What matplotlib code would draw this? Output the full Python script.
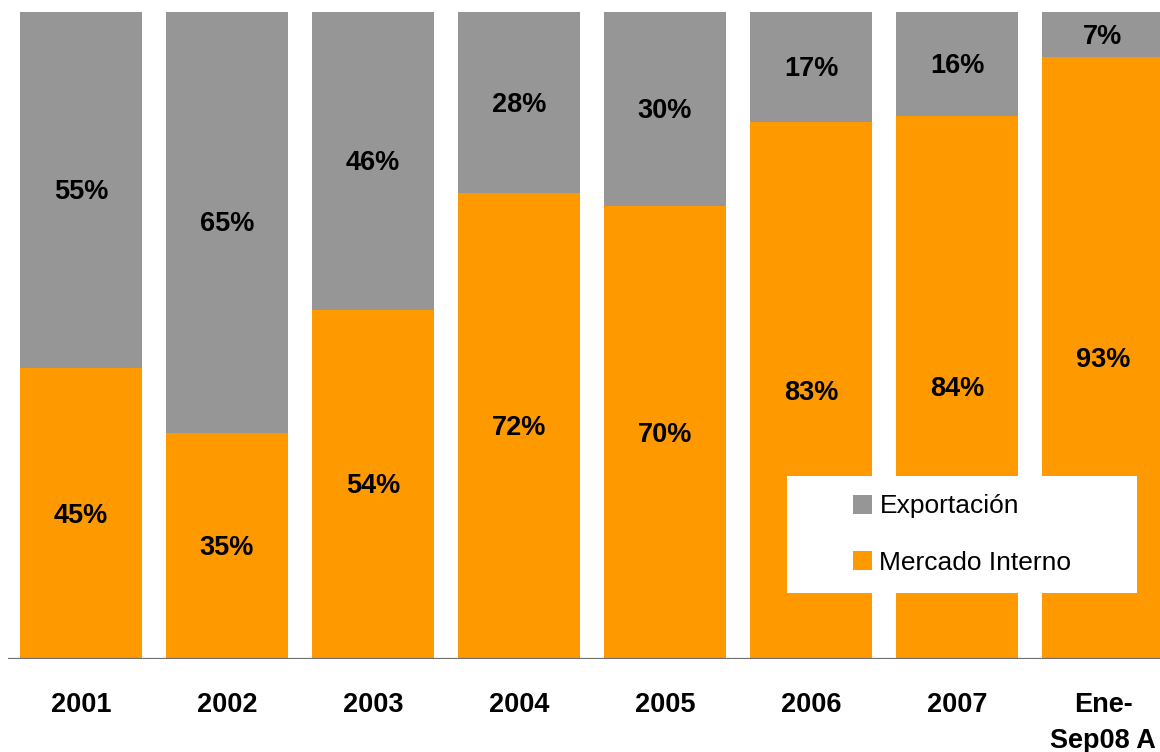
import matplotlib
matplotlib.use("Agg")
import matplotlib.pyplot as plt
from matplotlib.patches import Rectangle, Patch

categories = ["2001", "2002", "2003", "2004", "2005", "2006", "2007", "Ene-\nSep08 A"]
mercado_interno = [45, 35, 54, 72, 70, 83, 84, 93]
exportacion = [55, 65, 46, 28, 30, 17, 16, 7]

GREY = "#969696"
ORANGE = "#FF9900"
FONT = ["Liberation Sans", "DejaVu Sans"]

fig = plt.figure(figsize=(11.6, 7.52), dpi=100)
W, H = 1160, 752
ax = fig.add_axes([8 / W, (H - 659) / H, 1168 / W, 647 / H])

x = list(range(len(categories)))
width = 122 / 146
ax.bar(x, mercado_interno, width=width, color=ORANGE, zorder=2)
ax.bar(x, exportacion, width=width, bottom=mercado_interno, color=GREY, zorder=2)

for i in x:
    m = mercado_interno[i]
    e = exportacion[i]
    ax.annotate(f"{m}%", (i, m / 2), xytext=(0, -1.5), textcoords="offset points",
                ha="center", va="center", fontsize=19.5,
                fontweight="bold", family=FONT, zorder=3)
    ax.annotate(f"{e}%", (i, m + e / 2), xytext=(0, -1.5), textcoords="offset points",
                ha="center", va="center", fontsize=19.5,
                fontweight="bold", family=FONT, zorder=3)

ax.set_xlim(-0.5, len(categories) - 0.5)
ax.set_ylim(0, 100)
ax.axhline(0, color="#6f6f6f", lw=1.6, zorder=4)

ax.set_xticks(x)
ax.set_xticklabels(categories, fontsize=19.5, fontweight="bold", family=FONT,
                   linespacing=1.5)
ax.tick_params(axis="x", length=0, pad=23.5)
ax.set_yticks([])
for s in ax.spines.values():
    s.set_visible(False)

# legend box
x0 = (787 - 8) / 1168
x1 = (1137 - 8) / 1168
y0 = (659 - 593) / 647
y1 = (659 - 476) / 647
ax.add_patch(Rectangle((x0, y0), x1 - x0, y1 - y0, transform=ax.transAxes,
                       facecolor="white", edgecolor="none", zorder=5))
handles = [Patch(facecolor=GREY, edgecolor="none", label="Exportación"),
           Patch(facecolor=ORANGE, edgecolor="none", label="Mercado Interno")]
leg = ax.legend(handles=handles, loc="center",
                bbox_to_anchor=((x0 + x1) / 2, (y0 + y1) / 2),
                frameon=False, prop={"family": FONT, "size": 19},
                handlelength=0.72, handleheight=0.72, handletextpad=0.3,
                labelspacing=1.22)
leg.set_zorder(6)

fig.savefig("out.png", dpi=100)
